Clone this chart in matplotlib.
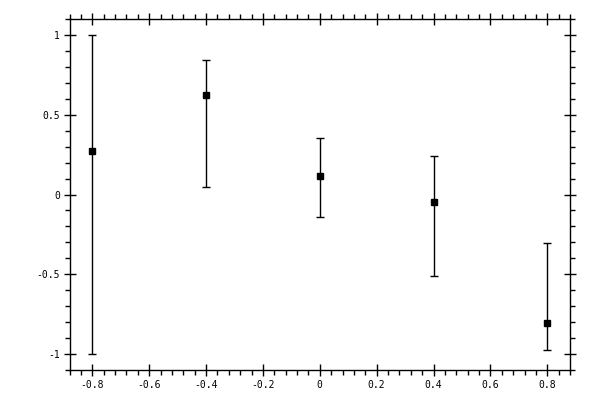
import numpy as np
import matplotlib
matplotlib.use("Agg")
import matplotlib.pyplot as plt
from matplotlib.ticker import FixedLocator, MultipleLocator

# data
x = [-0.8, -0.4, 0.0, 0.4, 0.8]
y = [0.271, 0.621, 0.119, -0.048, -0.803]
err_top = [1.0, 0.840, 0.351, 0.240, -0.301]
err_bottom = [-1.0, 0.046, -0.144, -0.508, -0.976]

xticks = [-0.8, -0.6, -0.4, -0.2, 0, 0.2, 0.4, 0.6, 0.8]
xlabels = ["-0.8", "-0.6", "-0.4", "-0.2", "0", "0.2", "0.4", "0.6", "0.8"]
yticks = [-1, -0.5, 0, 0.5, 1]
ylabels = ["-1", "-0.5", "0", "0.5", "1"]

y = np.array(y)
lo = y - np.array(err_bottom)
hi = np.array(err_top) - y

plt.rcParams['font.family'] = ['DejaVu Sans Mono']
fig = plt.figure(figsize=(6, 4), dpi=100)
ax = fig.add_axes([0.116, 0.075, 0.834, 0.8775])

ax.errorbar(x, y, yerr=[lo, hi], fmt='s', color='black', ms=5,
            elinewidth=1, capsize=3, capthick=1)

ax.set_xlim(-0.88, 0.88)
ax.set_ylim(-1.1, 1.1)
ax.xaxis.set_major_locator(FixedLocator(xticks))
ax.set_xticklabels(xlabels)
ax.yaxis.set_major_locator(FixedLocator(yticks))
ax.set_yticklabels(ylabels)
ax.xaxis.set_minor_locator(MultipleLocator(0.04))
ax.yaxis.set_minor_locator(MultipleLocator(0.1))

ax.tick_params(which='major', direction='inout', length=8, width=1,
               top=True, right=True, labelsize=7, pad=3)
ax.tick_params(which='minor', direction='out', length=3.5, width=1,
               top=True, right=True)
for s in ax.spines.values():
    s.set_linewidth(1)

fig.savefig("out.png", dpi=100)
